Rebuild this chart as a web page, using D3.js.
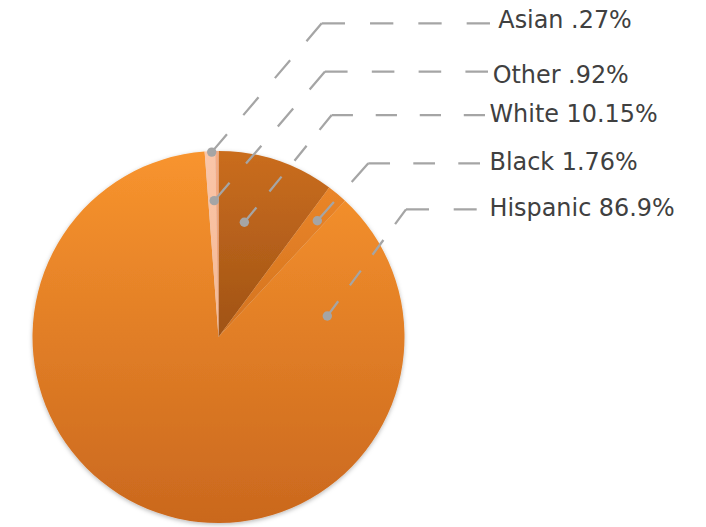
<!DOCTYPE html>
<html>
<head>
<meta charset="utf-8">
<script src="https://cdn.jsdelivr.net/npm/d3@7"></script>
<style>
  html, body { margin: 0; padding: 0; background: #ffffff; }
  svg { display: block; }
</style>
</head>
<body>
<svg id="chart" width="706" height="527"></svg>
<script>
// Population share by group (percent), in slice order clockwise from 12 o'clock
const categories = ["White", "Black", "Hispanic", "Other", "Asian"];
const shares = [10.15, 1.76, 86.9, 0.92, 0.27];

// Slice fills: top and bottom stops of each slice's vertical gradient
const colorTop = ["#CA6D1F", "#EA8529", "#F8942E", "#FAC6A9", "#F3AC86"];
const colorBottom = ["#A05315", "#D3731F", "#CA681E", "#F5B893", "#EE9F76"];

// Data-label placement: leader anchor (polar, from the pie centre), elbow point, line end, text origin
const labelLayout = {
  Asian:    { angle: -2.1, r: 185,   elbow: [321.7, 23.3],  endX: 490,   textX: 498.3, textY: 27.7 },
  Other:    { angle: -1.8, r: 136.4, elbow: [325, 71.5],    endX: 488,   textX: 492.7, textY: 83.3 },
  White:    { angle: 12.7, r: 117.6, elbow: [331.7, 115],   endX: 485,   textX: 489.5, textY: 121.7 },
  Black:    { angle: 40.35, r: 152.6, elbow: [368.3, 163.3], endX: 480,  textX: 489.5, textY: 170 },
  Hispanic: { angle: 79.1, r: 110.8, elbow: [406, 209.3],   endX: 476.7, textX: 489.5, textY: 215.5 }
};

const cx = 218.5, cy = 337, radius = 186;

const data = categories.map((c, i) => ({ cat: c, v: shares[i], top: colorTop[i], bottom: colorBottom[i] }));

const fmt = v => String(v).replace(/^0(?=\.)/, "");
const labelText = d => `${d.cat} ${fmt(d.v)}%`;

const svg = d3.select("#chart");
const defs = svg.append("defs");

// soft outer shadow under the pie
const shadow = defs.append("filter").attr("id", "pieShadow")
  .attr("x", "-10%").attr("y", "-10%").attr("width", "120%").attr("height", "120%");
shadow.append("feDropShadow")
  .attr("dx", 0).attr("dy", 1.5).attr("stdDeviation", 2)
  .attr("flood-color", "#000").attr("flood-opacity", 0.28);

data.forEach((d, i) => {
  const g = defs.append("linearGradient").attr("id", "grad" + i)
    .attr("x1", 0).attr("y1", 0).attr("x2", 0).attr("y2", 1);
  g.append("stop").attr("offset", "0%").attr("stop-color", d.top);
  g.append("stop").attr("offset", "100%").attr("stop-color", d.bottom);
});

const pie = d3.pie().sort(null).value(d => d.v).startAngle(0).endAngle(2 * Math.PI);
const arc = d3.arc().innerRadius(0).outerRadius(radius);
const arcs = pie(data);

const pieG = svg.append("g")
  .attr("transform", `translate(${cx},${cy})`)
  .attr("filter", "url(#pieShadow)");

pieG.selectAll("path")
  .data(arcs)
  .join("path")
  .attr("d", arc)
  .attr("fill", (d, i) => `url(#grad${i})`);

// Dash pattern that fits a whole number of dashes on a segment, with a dash at each end
const dashBase = 23.3, gapBase = 25;
function fitDash(len) {
  const k = (len + gapBase) / (dashBase + gapBase);
  const n = Math.max(1, Math.round(k + 0.25));
  const ratio = gapBase / dashBase;
  const dash = len / (n + (n - 1) * ratio);
  return `${dash.toFixed(2)},${(dash * ratio).toFixed(2)}`;
}

const leaderColor = "#A5A5A5";
const leaders = svg.append("g");

data.forEach(d => {
  const L = labelLayout[d.cat];
  const p = d3.pointRadial(L.angle * Math.PI / 180, L.r);
  const dot = [cx + p[0], cy + p[1]];
  const segs = [
    [dot, L.elbow],
    [L.elbow, [L.endX, L.elbow[1]]]
  ];
  segs.forEach(([a, b]) => {
    const len = Math.hypot(b[0] - a[0], b[1] - a[1]);
    leaders.append("line")
      .attr("x1", a[0]).attr("y1", a[1])
      .attr("x2", b[0]).attr("y2", b[1])
      .attr("stroke", leaderColor)
      .attr("stroke-width", 2.25)
      .attr("stroke-dasharray", fitDash(len));
  });
  leaders.append("circle")
    .attr("cx", dot[0]).attr("cy", dot[1])
    .attr("r", 4.7)
    .attr("fill", leaderColor);
});

svg.append("g")
  .selectAll("text")
  .data(data)
  .join("text")
  .attr("x", d => labelLayout[d.cat].textX)
  .attr("y", d => labelLayout[d.cat].textY)
  .attr("font-family", "'DejaVu Sans', sans-serif")
  .attr("font-size", 23.9)
  .attr("fill", "#404040")
  .text(labelText);
</script>
</body>
</html>
